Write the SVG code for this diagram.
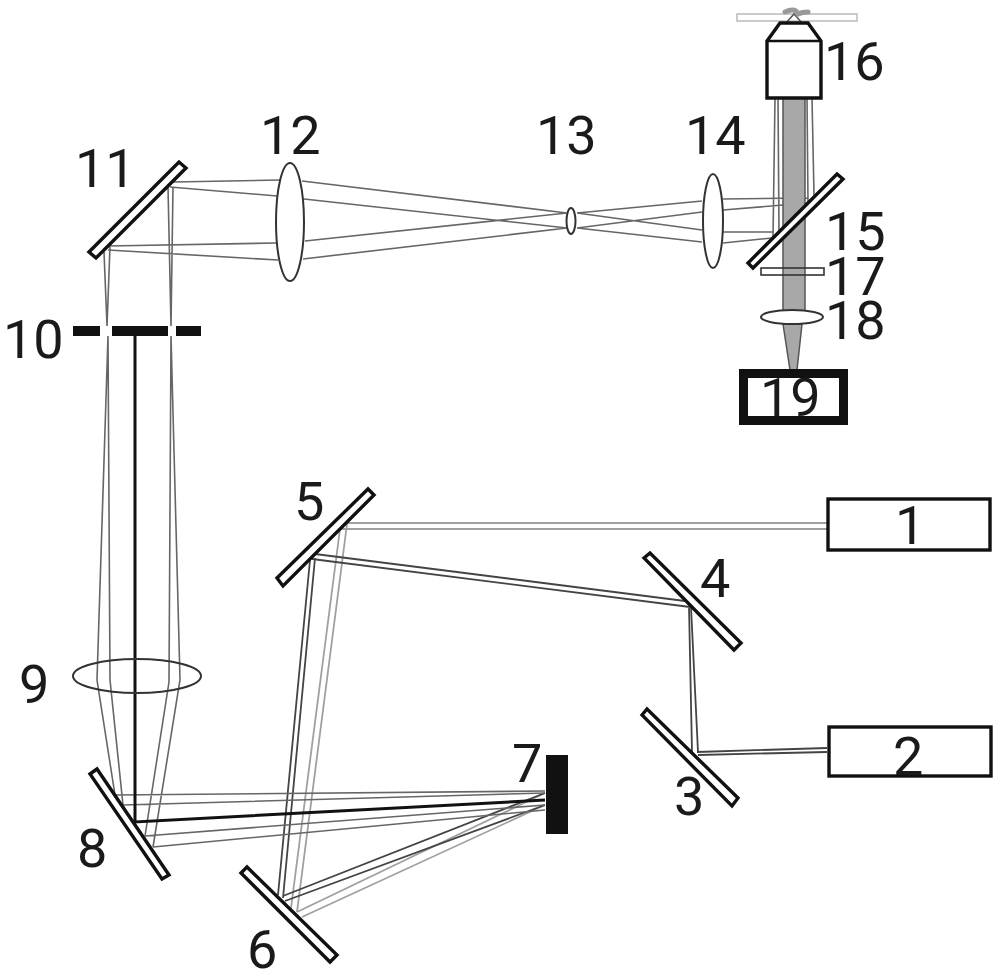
<svg xmlns="http://www.w3.org/2000/svg" width="1000" height="975" viewBox="0 0 1000 975">
<style>
.t{font-family:Roboto,"Liberation Sans",Arial,sans-serif;font-size:54px;fill:#1a1a1a}
.o{fill:#fff;stroke:#111;stroke-width:3.4;stroke-linejoin:miter}
.l{fill:#fff;stroke:#333;stroke-width:2}
.k{fill:#111;stroke:none}
.r{fill:none;stroke:#666;stroke-width:1.6}
.d{fill:none;stroke:#444;stroke-width:1.8}
.g{fill:none;stroke:#a0a0a0;stroke-width:1.8}
.b{fill:none;stroke:#111;stroke-width:3}
</style>
<rect width="1000" height="975" fill="#fff"/>
<g id="connectors">
<path class="g" d="M827 523H345M827 529H340M347 524L297 912M340 529L291 908M297 912L545 793M302 917L545 805"/>
<path class="d" d="M315 554L685 601M312 559L690 607M689 607L692 752M691 607L698 752M697 752L827 748M698 755L827 752M310 560L278 895M315 558L283 898M283 896L545 793M285 901L545 805"/>
<path class="r" d="M545 791L115 795M545 793L123 805M545 805L145 836M545 810L153 847M115 795L97 680L108 336M123 805L110 680L108 336M145 836L169 682L171 336M153 847L180 680L171 336M107 326L104 252M107 326L110 247M171 326L168 187M171 326L173 187M173 182L280 180M170 187L277 196M108 246L276 243M108 250L278 260M302 181L567 213M304 199L567 228M305 241L567 213M303 259L567 228M577 213L702 201M577 213L702 230M577 228L702 212M577 228L702 242M723 199L808 198M723 210L808 203M723 232L773 232M723 243L772 238M773 238L775 98M779 232L778 98M808 203L807 98M814 195L812 98"/>
<path class="b" d="M135 336V822L545 800"/>
<path fill="#a8a8a8" stroke="#555" stroke-width="1.5" d="M783 98H805V312H783Z"/>
<path fill="#a8a8a8" stroke="#555" stroke-width="1.5" d="M783 324H802L797 370H790Z"/>
</g>
<g id="n1"><rect class="o" x="828" y="499" width="162" height="51"/><text class="t" x="895" y="544">1</text></g>
<g id="n2"><rect class="o" x="829" y="727" width="162" height="49"/><text class="t" x="893" y="775">2</text></g>
<g id="n3"><polygon class="o" points="642,715 647,709 738,798 732,806"/><text class="t" x="674" y="815">3</text></g>
<g id="n4"><polygon class="o" points="644,558 650,553 741,643 734,650"/><text class="t" x="700" y="597">4</text></g>
<g id="n5"><polygon class="o" points="277,578 283,586 374,495 368,489"/><text class="t" x="294" y="520">5</text></g>
<g id="n6"><polygon class="o" points="241,873 247,867 337,955 330,962"/><text class="t" x="247" y="968">6</text></g>
<g id="n7"><rect class="k" x="546" y="755" width="22" height="79"/><text class="t" x="512" y="782">7</text></g>
<g id="n8"><polygon class="o" points="90,774 97,769 169,875 162,879"/><text class="t" x="77" y="867">8</text></g>
<g id="n9"><ellipse cx="137" cy="676" rx="64" ry="17" fill="none" stroke="#333" stroke-width="2"/><text class="t" x="19" y="703">9</text></g>
<g id="n10"><rect class="k" x="73" y="326" width="27" height="10"/><rect class="k" x="112" y="326" width="56" height="10"/><rect class="k" x="176" y="326" width="25" height="10"/><text class="t" x="3" y="358">10</text></g>
<g id="n11"><polygon class="o" points="89,252 96,258 186,168 179,162"/><text class="t" x="75" y="187">11</text></g>
<g id="n12"><ellipse class="l" cx="290" cy="222" rx="14" ry="59"/><text class="t" x="260" y="154">12</text></g>
<g id="n13"><ellipse class="l" cx="571" cy="221" rx="4.5" ry="13"/><text class="t" x="536" y="154">13</text></g>
<g id="n14"><ellipse class="l" cx="713" cy="221" rx="10" ry="47"/><text class="t" x="685" y="154">14</text></g>
<g id="n15"><polygon class="o" points="748,263 753,268 843,179 837,174"/><text class="t" x="825" y="250">15</text></g>
<g id="n16"><rect x="737" y="14" width="120" height="7" fill="#fff" stroke="#bbb" stroke-width="1.5"/><path fill="none" stroke="#555" stroke-width="1.5" d="M786 23L794 14L802 23"/><path fill="none" stroke="#999" stroke-width="5" stroke-linecap="round" d="M785 12Q795 7 798 14Q802 12 808 12"/><path class="o" d="M767 41L780 23H808L821 41V98H767Z"/><path fill="none" stroke="#111" stroke-width="2.5" d="M767 41H821"/><text class="t" x="824" y="80">16</text></g>
<g id="n17"><rect x="761" y="268" width="63" height="7" fill="none" stroke="#333" stroke-width="1.6"/><text class="t" x="825" y="295">17</text></g>
<g id="n18"><ellipse class="l" cx="792" cy="317" rx="31" ry="7"/><text class="t" x="825" y="339">18</text></g>
<g id="n19"><path class="k" fill-rule="evenodd" d="M739 369H848V425H739ZM748 378V416H839V378Z"/><text class="t" x="760" y="416">19</text></g>
</svg>
